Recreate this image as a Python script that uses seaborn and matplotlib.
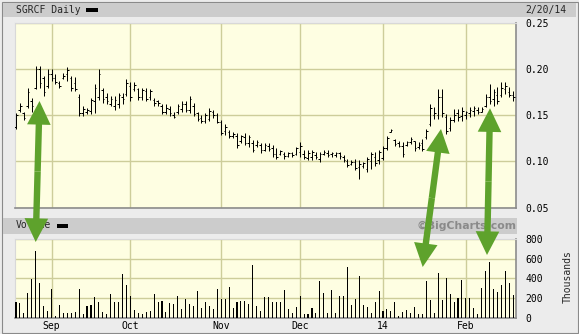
import matplotlib
matplotlib.use("Agg")
import matplotlib.pyplot as plt
import seaborn as sns
from matplotlib.patches import FancyArrowPatch, Rectangle, ArrowStyle

sns.set_style("white")
plt.rcParams['font.family'] = ['DejaVu Sans Mono', 'DejaVu Sans']

# ---------------- data ----------------
high = [.152, .1635, .154, .180, .169, .2036, .2036, .193, .200, .200,
        .1945, .187, .196, .202, .193, .191, .1725, .160, .158, .169,
        .1835, .200, .180, .1745, .171, .171, .1745, .1745, .189, .1855,
        .1855, .180, .180, .180, .178, .169, .167, .1617, .1617, .160,
        .154, .1617, .165, .165, .171, .1635, .154, .1507, .1525, .158,
        .156, .1525, .145, .140, .134, .132, .1306, .129, .1306, .129,
        .123, .123, .120, .120, .120, .118, .114, .112, .110, .110,
        .110, .116, .1215, .112, .112, .112, .110, .110, .112, .112,
        .110, .110, .110, .107, .103, .101, .103, .101, .0997, .105,
        .110, .110, .112, .117, .127, .135, .1243, .1225, .1207, .1225,
        .1261, .1225, .1207, .1243, .1351, .1621, .1585, .1783, .1783, .1513,
        .1477, .1567, .1567, .1585, .1549, .1585, .1603, .1585, .1585, .1729,
        .1837, .1783, .1801, .1855, .1855, .1801, .1765]
low = [.135, .154, .145, .158, .154, .178, .180, .171, .180, .187,
       .1835, .180, .189, .187, .176, .176, .149, .149, .151, .151,
       .1525, .167, .1635, .162, .160, .156, .158, .162, .171, .1653,
       .176, .167, .167, .165, .167, .160, .160, .151, .151, .149,
       .147, .151, .154, .154, .1525, .149, .1435, .1416, .1416, .1435,
       .147, .1416, .129, .129, .125, .125, .1146, .120, .118, .116,
       .1106, .116, .109, .111, .111, .105, .103, .107, .103, .105,
       .105, .107, .105, .103, .101, .101, .103, .0997, .107, .105,
       .105, .105, .103, .0997, .094, .096, .0905, .0814, .0925, .0887,
       .092, .095, .097, .101, .112, .1315, .117, .1153, .1045, .1171,
       .1189, .1117, .1135, .1117, .1243, .1387, .1459, .1459, .1477, .1297,
       .1333, .1423, .1441, .1441, .1459, .1477, .1495, .1513, .1531, .1585,
       .1621, .1603, .1621, .1693, .1729, .1693, .1657]
open_ = [.137, .156, .152, .160, .165, .180, .200, .190, .182, .195,
         .190, .185, .190, .195, .190, .185, .170, .152, .153, .155,
         .165, .170, .177, .170, .162, .160, .162, .170, .173, .182,
         .178, .178, .170, .176, .170, .167, .165, .160, .153, .157,
         .150, .153, .157, .162, .156, .160, .152, .147, .144, .146,
         .153, .150, .143, .133, .132, .127, .128, .122, .126, .120,
         .120, .118, .118, .112, .117, .115, .108, .108, .108, .106,
         .109, .108, .110, .108, .104, .105, .107, .103, .108, .109,
         .108, .107, .109, .105, .100, .097, .099, .094, .095, .092,
         .100, .105, .102, .104, .115, .132, .123, .120, .117, .118,
         .121, .122, .116, .120, .126, .140, .150, .150, .170, .148,
         .136, .145, .152, .149, .150, .152, .155, .156, .154, .160,
         .170, .168, .172, .172, .178, .175, .172]
close = [.150, .160, .147, .175, .160, .200, .185, .175, .195, .190,
         .186, .182, .193, .199, .180, .178, .152, .157, .156, .166,
         .180, .195, .168, .165, .168, .166, .172, .168, .185, .170,
         .183, .170, .177, .168, .176, .163, .163, .153, .158, .152,
         .148, .160, .162, .156, .168, .151, .146, .144, .150, .155,
         .150, .143, .131, .137, .127, .130, .118, .127, .120, .126,
         .112, .121, .112, .118, .113, .108, .105, .111, .106, .109,
         .107, .114, .117, .105, .109, .110, .105, .108, .110, .107,
         .109, .109, .106, .101, .096, .099, .093, .097, .098, .103,
         .108, .098, .110, .115, .125, .134, .119, .117, .108, .121,
         .124, .114, .118, .113, .133, .158, .152, .170, .152, .133,
         .145, .150, .148, .155, .153, .156, .158, .153, .157, .170,
         .165, .175, .165, .180, .182, .172, .170]
volume = [157, 147, 55, 257, 390, 680, 350, 123, 72, 298,
          20, 133, 55, 55, 55, 65, 298, 44, 123, 133,
          215, 164, 62, 44, 246, 160, 164, 443, 337, 226,
          82, 50, 44, 57, 72, 246, 160, 170, 62, 150,
          140, 226, 89, 192, 140, 123, 275, 106, 164, 120,
          89, 294, 192, 192, 318, 106, 157, 174, 174, 140,
          540, 123, 72, 215, 215, 164, 157, 164, 287, 89,
          48, 116, 219, 38, 45, 106, 48, 376, 253, 55,
          287, 48, 226, 226, 513, 130, 192, 421, 130, 116,
          55, 157, 277, 72, 94, 70, 164, 18, 58, 78,
          51, 110, 45, 45, 378, 180, 55, 460, 180, 400,
          245, 160, 205, 380, 202, 202, 99, 44, 308, 472,
          564, 298, 263, 339, 472, 359, 236]
days = list(range(len(close)))

month_pos = [9, 29, 52, 72, 93, 114]
month_labels = ['Sep', 'Oct', 'Nov', 'Dec', '14', 'Feb']
price_ticks = [0.05, 0.10, 0.15, 0.20, 0.25]
price_labels = ['0.05', '0.10', '0.15', '0.20', '0.25']
vol_ticks = [0, 200, 400, 600, 800]
vol_labels = ['0', '200', '400', '600', '800']

# ---------------- layout ----------------
W, H = 579, 334
fig = plt.figure(figsize=(W / 100, H / 100), dpi=100)
fig.patch.set_facecolor('#ececec')


def fx(x):
    return x / W


def fy(y):
    return 1 - y / H


def frect(x0, y0, x1, y1, **kw):
    r = Rectangle((fx(x0), fy(y1)), fx(x1) - fx(x0), (y1 - y0) / H,
                  transform=fig.transFigure, **kw)
    fig.add_artist(r)
    return r


# outer border and header bands
frect(1.5, 1.5, 577.5, 332.5, facecolor='none', edgecolor='#8a8a8a', lw=0.8, zorder=0)
frect(3, 3, 576, 17, facecolor='#cccccc', edgecolor='none', zorder=0)
frect(3, 218, 517, 233.5, facecolor='#cccccc', edgecolor='none', zorder=0)

GRID = '#cdcd9a'
BG = '#fefee2'
TXT = 7
LW = 0.72

# ---------------- price panel ----------------
ax = fig.add_axes([fx(15), fy(208), fx(516) - fx(15), (208 - 22.5) / H])
ax.set_facecolor(BG)
ax.vlines(days, low, high, color='black', lw=LW, zorder=3)
ax.hlines(open_, [d - 0.4 for d in days], days, color='black', lw=LW, zorder=3)
ax.hlines(close, days, [d + 0.4 for d in days], color='black', lw=LW, zorder=3)
ax.set_xlim(-0.25, 126.7)
ax.set_ylim(0.0495, 0.2505)
ax.set_xticks(month_pos)
ax.set_yticks(price_ticks, price_labels)
ax.yaxis.tick_right()
ax.tick_params(axis='y', length=0, pad=6.5, labelsize=TXT, labelcolor='black')
ax.tick_params(axis='x', length=0, labelbottom=False)
ax.grid(True, color=GRID, lw=1)
ax.set_axisbelow(True)
for s in ['left', 'top']:
    ax.spines[s].set_color('#d8d8d8')
    ax.spines[s].set_linewidth(0.8)
for s in ['right', 'bottom']:
    ax.spines[s].set_color('#8c8c8c')
    ax.spines[s].set_linewidth(1.2)

# ---------------- volume panel ----------------
axv = fig.add_axes([fx(15), fy(318), fx(516) - fx(15), (318 - 238.5) / H])
axv.set_facecolor(BG)
sns.barplot(x=days, y=volume, native_scale=True, width=0.27, color='black',
            saturation=1, linewidth=0, errorbar=None, ax=axv, zorder=3)
for p in axv.patches:
    p.set_antialiased(False)
axv.set_xlim(-0.25, 126.7)
axv.set_ylim(0, 805)
axv.set_xticks(month_pos, month_labels)
axv.set_yticks(vol_ticks, vol_labels)
axv.yaxis.tick_right()
axv.tick_params(axis='y', length=0, pad=6.5, labelsize=TXT, labelcolor='black')
axv.tick_params(axis='x', length=0, pad=2.5, labelsize=TXT, labelcolor='black')
axv.set_xlabel('')
axv.set_ylabel('')
axv.grid(True, color=GRID, lw=1)
axv.set_axisbelow(True)
for s in ['left', 'top']:
    axv.spines[s].set_color('#d8d8d8')
    axv.spines[s].set_linewidth(0.8)
for s in ['right', 'bottom']:
    axv.spines[s].set_color('#8c8c8c')
    axv.spines[s].set_linewidth(1.2)

# ---------------- texts ----------------
fig.text(fx(16), fy(10), 'SGRCF Daily', ha='left', va='center', fontsize=TXT)
frect(86, 7.5, 98, 11.5, facecolor='black', edgecolor='none', zorder=2)
fig.text(fx(566), fy(10), '2/20/14', ha='right', va='center', fontsize=TXT)
fig.text(fx(16), fy(225.5), 'Volume', ha='left', va='center', fontsize=TXT)
frect(57, 223.5, 68, 227.5, facecolor='black', edgecolor='none', zorder=2)
fig.text(fx(517), fy(225.5), '\u00a9BigCharts.com', ha='right', va='center',
         fontsize=7.8, fontweight='bold', color='#8a8a8a', family='DejaVu Sans')
fig.text(fx(568), fy(277), 'Thousands', ha='center', va='center', rotation=90,
         fontsize=TXT)

# ---------------- green arrows (annotations) ----------------
GREEN = '#5ea22c'
style = ArrowStyle.Simple(head_length=17, head_width=17, tail_width=4.6)


def arrow(p0, p1):
    a = FancyArrowPatch((fx(p0[0]), fy(p0[1])), (fx(p1[0]), fy(p1[1])),
                        transform=fig.transFigure, arrowstyle=style,
                        color=GREEN, lw=0, shrinkA=0, shrinkB=0, zorder=10)
    fig.add_artist(a)


for top, bot in [((39.5, 101), (35.7, 242)),
                 ((441, 129), (422.7, 267)),
                 ((490, 108.3), (487, 255))]:
    mid = ((top[0] + bot[0]) / 2, (top[1] + bot[1]) / 2)
    arrow(mid, top)
    arrow(mid, bot)

fig.savefig('out.png', dpi=100, facecolor=fig.get_facecolor())
